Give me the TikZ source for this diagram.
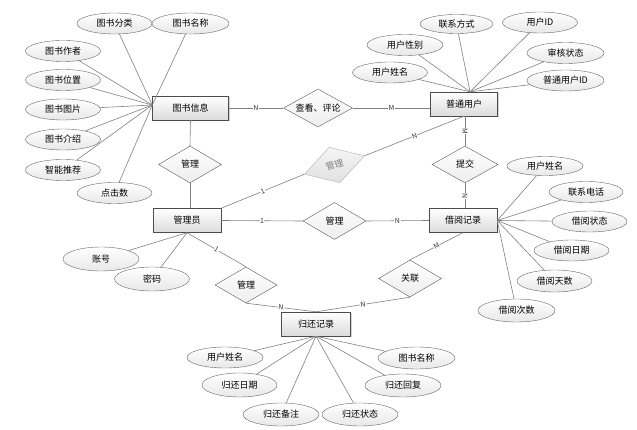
\documentclass[tikz,border=0pt]{standalone}
\usepackage{fontspec}
\setmainfont{Noto Sans CJK SC}
\usetikzlibrary{shapes.geometric,shadows}
\begin{document}
\begin{tikzpicture}[x=1pt,y=-1pt,
  font=\fontsize{9}{10}\selectfont,
  ent/.style={rectangle,draw=black!70,top color=white,bottom color=black!14,
    minimum width=#1,minimum height=24pt,inner sep=0pt,
    drop shadow={shadow xshift=1pt,shadow yshift=-1pt,opacity=0.35}},
  ent/.default=68pt,
  attr/.style={ellipse,draw=black!60,top color=white,bottom color=black!9,
    minimum width=75pt,minimum height=21pt,inner sep=0pt},
  rel/.style={diamond,draw=black!65,top color=white,bottom color=black!7,
    minimum width=63pt,minimum height=37pt,inner sep=0pt,aspect=1.7},
  ln/.style={draw=black!50,line width=0.6pt},
  card/.style={font=\fontsize{7}{8}\selectfont,fill=white,inner sep=0.5pt,text=black!80}
]
\useasboundingbox (0,0) rectangle (637,430);

% entities
\node[ent=76pt] (book) at (190.5,108) {图书信息};
\node[ent=67pt] (users) at (464,104) {普通用户};
\node[ent=68pt] (admin) at (187,220.5) {管理员};
\node[ent=68pt] (borrow) at (463,220.5) {借阅记录};
\node[ent=69pt] (ret) at (316,324) {归还记录};

% relationships
\node[rel,minimum width=69pt,minimum height=38pt] (cv) at (318,108) {查看、评论};
\node[rel] (m1) at (190,164.5) {管理};
\node[rel,rotate=17,draw=black!30,top color=black!4,bottom color=black!12,text=black!50] (gm) at (334.5,165) {管理};
\node[rel] (m2) at (334.5,221) {管理};
\node[rel,minimum width=66pt] (sub) at (465,164.5) {提交};
\node[rel] (rl) at (410,278.5) {关联};
\node[rel,minimum width=62pt,minimum height=36pt] (m3) at (246,285) {管理};

% book attributes
\node[attr] (b1) at (114.5,23.5) {图书分类};
\node[attr,minimum width=77pt] (b2) at (190.5,23.5) {图书名称};
\node[attr] (b3) at (63,51) {图书作者};
\node[attr] (b4) at (63,80) {图书位置};
\node[attr] (b5) at (63,109.5) {图书图片};
\node[attr] (b6) at (63,139.5) {图书介绍};
\node[attr] (b7) at (63,170) {智能推荐};
\node[attr] (b8) at (114.5,193) {点击数};

% user attributes
\node[attr] (u1) at (390,72.5) {用户姓名};
\node[attr,minimum width=76pt] (u2) at (405,45) {用户性别};
\node[attr,minimum width=73pt,minimum height=19pt] (u3) at (456.5,24) {联系方式};
\node[attr] (u4) at (540,22.5) {用户ID};
\node[attr,minimum width=77pt] (u5) at (565.5,53) {审核状态};
\node[attr,minimum width=77pt] (u6) at (565.5,80.5) {普通用户ID};

% admin attributes
\node[attr,minimum width=76pt,minimum height=24pt] (a1) at (101,259) {账号};
\node[attr,minimum width=75pt,minimum height=24pt] (a2) at (152,279) {密码};

% borrow attributes
\node[attr,minimum width=76pt,minimum height=19pt] (r1) at (545,166) {用户姓名};
\node[attr,minimum width=74pt] (r2) at (586,192) {联系电话};
\node[attr] (r3) at (589.5,221.5) {借阅状态};
\node[attr] (r4) at (571.5,250.5) {借阅日期};
\node[attr,minimum height=22pt] (r5) at (554.5,281) {借阅天数};
\node[attr,minimum width=77pt,minimum height=23pt] (r6) at (516.5,310.5) {借阅次数};

% return attributes
\node[attr,minimum width=76pt] (t1) at (225,357.5) {用户姓名};
\node[attr,minimum height=24pt] (t2) at (239.5,385) {归还日期};
\node[attr,minimum width=76pt,minimum height=23pt] (t3) at (281,414.5) {归还备注};
\node[attr,minimum width=76pt,minimum height=23pt] (t4) at (360,414.5) {归还状态};
\node[attr,minimum width=76pt,minimum height=23pt] (t5) at (403,385.5) {归还回复};
\node[attr,minimum width=77pt,minimum height=22pt] (t6) at (416.5,358) {图书名称};

% attribute connectors
\coordinate (bc) at ([yshift=3pt]book.west);
\foreach \n in {b1,b2,b3,b4,b5,b6,b7,b8} \draw[ln] (bc) -- (\n);
\coordinate (uc) at ([xshift=6pt]users.north);
\foreach \n in {u1,u2,u3,u4,u5,u6} \draw[ln] (uc) -- (\n);
\foreach \n in {a1,a2} \draw[ln] (admin.south) -- (\n);
\foreach \n in {r1,r2,r3,r4,r5,r6} \draw[ln] (borrow.east) -- (\n);
\foreach \n in {t1,t2,t3,t4,t5,t6} \draw[ln] (ret.south) -- (\n);

% relationship connectors
\draw[ln] (book.east) -- node[card]{N} (cv.west);
\draw[ln] (cv.east) -- node[card]{M} (cv.east -| users.west);
\draw[ln] (book.south) -- (m1.north);
\draw[ln] (m1.south) -- (m1.south |- admin.north);
\draw[ln] (admin.north east) -- node[card,sloped]{1} (gm.west);
\draw[ln] (gm.east) -- node[card,sloped]{N} (users.south);
\draw[ln] (admin.east) -- node[card]{1} (m2.west);
\draw[ln] (m2.east) -- node[card]{N} (borrow.west);
\draw[ln] (sub.north |- users.south) -- node[card,sloped]{M} (sub.north);
\draw[ln] (sub.south) -- node[card,sloped]{N} (sub.south |- borrow.north);
\draw[ln] (borrow.south) -- node[card,sloped]{M} (rl.north);
\draw[ln] (rl.south) -- node[card,sloped]{N} (ret.north);
\draw[ln] (admin.south) -- node[card,sloped]{1} (m3.north);
\draw[ln] (m3.south) -- node[card,sloped]{N} (ret.north);
\end{tikzpicture}
\end{document}
